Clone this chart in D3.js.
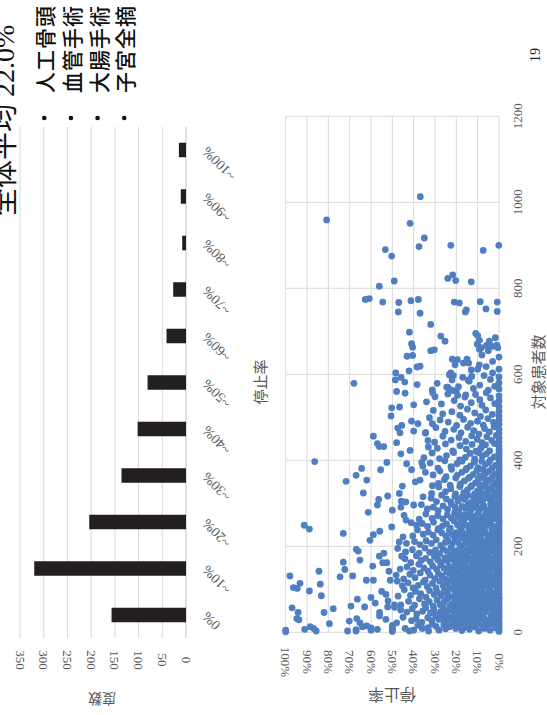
<!DOCTYPE html>
<html>
<head>
<meta charset="utf-8">
<script src="https://cdn.jsdelivr.net/npm/d3@7"></script>
<style>
  html, body { margin: 0; padding: 0; background: #fff; }
  svg { display: block; }
</style>
</head>
<body>
<svg id="page" width="547" height="715"></svg>
<script>
// ---- data ----
const rateCategories = ["0%", "~10%", "~20%", "~30%", "~40%", "~50%", "~60%", "~70%", "~80%", "~90%", "~100%"];
const frequencyCounts = [157, 320, 204, 136, 102, 81, 41, 27, 8, 11, 15];
const frequencyTicks = [0, 50, 100, 150, 200, 250, 300, 350];

const rateTicks = [0, 10, 20, 30, 40, 50, 60, 70, 80, 90, 100];
const patientTicks = [0, 200, 400, 600, 800, 1000, 1200];

const summaryLabel = "全体平均";
const summaryValue = "22.0%";
const procedures = ["人工骨頭", "血管手術", "大腸手術", "子宮全摘"];
const pageNumber = "19";

// [停止率 (%), 対象患者数]
const facilities = [
  [0,2],[0,7],[0,12],[0,17],[1.4,10],[2.9,19],[4.2,5],[5.6,14],[6.8,9],[8.1,18],[9.5,3],[10.9,12],[12.3,16],[13.8,7],[14.6,20],[16.1,11],[17.4,4],[18.8,15],[20.3,9],[21.7,19],[23.2,13],[25,8],[25.9,17],[28.1,5],[29.5,14],[31.3,19],[33,3],[33.3,11],[36,9],[38,16],[40,5],[42,3],[44,9],[50,2],[50,4],[50,9],[50,12],[50,16],[57,7],[60,5],[60,10],[62,15],[67,3],[67,6],[64,13],[71,3],[79.5,20],[85.7,3],[86.9,9],[88.5,13],[91.1,7],[100,1],[100,5],
  [0,21],[0,27],[0,34],[0,39],[0.8,30],[2.1,24],[3.3,36],[4.6,28],[5.2,22],[6.9,33],[7.7,26],[8.4,39],[9.8,31],[10.5,23],[11.9,35],[12.6,27],[13.4,21],[14.8,37],[15.3,29],[16.7,24],[17.6,34],[18.9,26],[19.5,38],[20.8,31],[21.4,22],[22.7,36],[24.1,28],[25.6,24],[26.3,35],[28.2,30],[29.7,38],[31.5,27],[33.4,34],[36.2,23],[38.8,31],[41,27],[45,35],[48,22],[53,30],[56,38],[65.2,22],[66.7,32],[70.2,26],[93.8,29],[94.8,32],
  [0,43],[0,49],[0,55],[0.6,58],[1.7,46],[2.9,52],[3.8,41],[5.1,57],[6.3,47],[7.2,54],[8.8,44],[9.4,59],[10.7,50],[11.6,42],[12.9,56],[13.5,47],[14.2,53],[15.9,44],[16.6,58],[17.8,49],[18.4,41],[19.7,55],[20.9,46],[22.3,59],[23.6,51],[24.8,43],[26.1,56],[27.4,48],[28.9,41],[30.6,53],[32.1,45],[34.3,57],[35.8,49],[38.5,43],[40.7,55],[43.2,47],[46.1,52],[49,58],[52.2,59],[56,46],[63,59],[69.4,61],[77.7,55],[82,46],[94.2,46],[97,57],
  [0,61],[0,67],[0,73],[0,79],[1.2,64],[2.4,76],[3.6,69],[4.3,61],[5.7,72],[6.6,66],[7.9,78],[8.2,63],[9.6,70],[10.3,75],[11.4,62],[12.7,68],[13.9,77],[14.5,65],[15.8,72],[16.4,60],[17.3,69],[18.6,79],[19.2,64],[20.5,74],[21.8,67],[23.1,62],[24.4,77],[25.9,70],[27.6,64],[29.1,75],[30.8,61],[32.7,71],[34.9,66],[37.3,78],[39.6,63],[42.4,72],[46,64],[49,64],[52,73],[58,68],[66.4,77],
  [0,81],[0,88],[0,95],[0.5,99],[1.6,85],[2.8,92],[3.9,83],[4.7,97],[5.9,89],[6.4,81],[7.8,94],[8.7,86],[9.3,99],[10.8,90],[11.2,82],[12.5,96],[13.8,87],[14.3,93],[15.6,84],[16.9,98],[17.5,89],[18.2,81],[19.8,93],[20.6,86],[21.3,99],[22.9,83],[24.2,91],[25.7,96],[27.1,85],[28.8,93],[30.4,88],[32.6,97],[34.2,82],[36.7,90],[39.1,95],[41.5,86],[44.4,99],[47.3,84],[53,88],[55,95],[60,81],[83.3,85],[88.9,96],
  [0,101],[0,108],[0,115],[0.9,104],[2.2,119],[3.1,110],[4.4,102],[5.6,114],[6.1,107],[7.5,118],[8.6,103],[9.1,111],[10.4,116],[11.7,105],[12.3,120],[13.6,109],[14.9,101],[15.4,113],[16.2,106],[17.7,117],[18.5,102],[19.3,112],[20.7,107],[21.9,118],[23.4,104],[24.6,113],[26.2,108],[27.8,119],[29.5,103],[31.2,114],[33.6,106],[35.4,117],[37.9,109],[40.3,103],[42.6,115],[45.3,108],[47.7,119],[51,121],[58.9,121],[62.2,121],[83.8,112],[96.4,104],[94.6,102],[93.3,114],
  [0,122],[0,129],[0,136],[0.4,140],[1.4,125],[2.6,133],[3.5,121],[4.9,138],[5.4,127],[6.7,134],[7.3,123],[8.9,130],[9.7,139],[10.2,126],[11.5,135],[12.8,122],[13.2,131],[14.7,137],[15.1,124],[16.5,132],[17.9,128],[18.3,139],[19.6,121],[20.9,134],[22.2,126],[23.5,138],[24.9,123],[26.6,131],[28.3,136],[30.1,125],[32.4,133],[34.6,121],[36.9,138],[39.4,127],[41.8,135],[44.7,124],[48.2,133],[51.6,142],[68.6,131],[74.5,129],[98,131],
  [0,141],[0,148],[0,155],[1.1,144],[2.3,159],[3.4,150],[4.5,142],[5.8,153],[6.2,146],[7.6,158],[8.5,143],[9.2,151],[10.6,156],[11.3,145],[12.4,160],[13.7,149],[14.1,141],[15.5,154],[16.8,147],[17.2,157],[18.7,143],[19.4,152],[20.3,158],[21.7,145],[23.2,153],[24.5,141],[25.8,149],[27.3,157],[29.2,146],[31.1,154],[33.3,142],[35.2,150],[37.6,158],[40.2,144],[43.1,152],[46.3,147],[59.2,154],[72.3,146],[84.4,142],
  [0,161],[0,168],[0,175],[0.7,179],[1.9,164],[2.5,172],[3.7,162],[4.8,177],[5.3,167],[6.5,174],[7.4,163],[8.3,171],[9.9,178],[10.1,165],[11.8,173],[12.2,161],[13.3,169],[14.6,176],[15.7,163],[16.3,171],[17.4,179],[18.8,166],[19.1,174],[20.4,162],[21.6,170],[22.8,178],[24.3,165],[25.5,173],[27.2,161],[28.7,169],[30.3,177],[32.2,164],[34.4,172],[36.5,167],[38.7,178],[41.4,162],[44.1,171],[45.6,177],[52.6,162],[54.5,162],[56.1,177],[65.2,168],[73,163],
  [0,181],[0,188],[0,195],[1.3,184],[2.7,192],[3.2,199],[4.2,186],[5.5,193],[6.8,182],[7.1,190],[8.1,197],[9.5,185],[10.9,194],[11.1,181],[12.6,189],[13.5,198],[14.4,183],[15.2,191],[16.6,187],[17.1,196],[18.5,182],[19.9,190],[21.2,185],[22.5,197],[24.3,188],[26.1,193],[27.9,183],[29.8,191],[32.5,186],[34.7,196],[37.4,184],[40.6,192],[43.8,187],[47.5,195],[54,184],[66.9,193],[66,189],
  [0,201],[0,208],[0,215],[1.2,204],[2.3,212],[3.6,219],[4.4,206],[5.7,214],[6.3,201],[7.4,209],[8.6,217],[9.3,203],[10.2,211],[11.8,206],[12.4,218],[13.9,204],[14.3,213],[15.7,208],[16.8,219],[18.2,202],[19.4,210],[20.6,216],[22.1,205],[23.8,213],[25.2,209],[27.3,202],[29.4,215],[31.7,207],[34.2,213],[37.1,204],[39.6,211],[43.4,207],[46.8,210],[60.5,214],
  [0,221],[0,228],[0,235],[1.5,224],[2.9,232],[3.4,239],[4.7,226],[5.1,221],[6.6,234],[7.8,229],[8.4,238],[9.6,223],[10.7,231],[11.3,237],[12.5,226],[13.4,233],[14.9,222],[16.2,229],[17.5,236],[18.8,225],[20.2,232],[21.9,227],[23.3,237],[24.9,224],[26.8,231],[28.6,238],[30.9,226],[33.1,233],[35.5,228],[38.2,238],[40.4,224],[45,222],[55.9,235],[58.9,227],[73,230],
  [0,243],[0,251],[0,258],[1.1,247],[2.4,241],[3.8,254],[4.3,259],[5.6,249],[6.9,244],[7.6,256],[8.9,252],[9.7,242],[10.4,258],[11.6,246],[12.8,253],[14.1,241],[15.4,249],[16.7,257],[18.1,244],[19.5,250],[21.1,259],[22.8,242],[24.6,252],[26.5,247],[28.4,241],[30.7,256],[33.5,246],[36,253],[38.6,249],[41.2,255],[50.3,245],[91.3,249],[88.9,240],
  [0,261],[0,268],[0,275],[1.4,264],[2.8,272],[3.5,279],[4.9,266],[5.3,261],[6.4,274],[7.7,268],[8.6,262],[9.8,277],[11.2,270],[12.5,263],[13.7,276],[15.1,267],[16.4,273],[17.9,262],[19.3,271],[20.8,278],[22.4,266],[24.2,273],[26.3,264],[28.7,271],[31.4,265],[34.3,275],[37.4,263],[43.6,261],[44.5,272],[61.3,279],
  [0,281],[0,288],[0,295],[1.2,284],[2.6,292],[3.9,299],[4.5,286],[5.8,281],[7.1,294],[8.2,289],[9.4,283],[10.6,297],[11.9,290],[13.2,284],[14.5,296],[15.8,288],[17.3,293],[18.9,282],[20.5,291],[22.3,298],[24.1,286],[26.2,294],[28.5,283],[30.8,291],[33.6,287],[36.4,297],[40,296],[46,291],[50,284],[57,296],
  [0,304],[0,311],[0,318],[1.6,301],[2.7,315],[4.1,308],[5.4,319],[6.7,312],[7.8,303],[9.1,317],[10.3,306],[11.7,313],[13.1,302],[14.6,318],[16.1,309],[17.6,314],[19.2,305],[20.7,316],[22.6,303],[24.7,310],[26.9,319],[29.3,304],[31.8,312],[35.6,315],[43.7,303],[45.8,305],[56.4,309],[52.2,317],[46.7,323],
  [0,324],[0,331],[0,338],[1.3,327],[2.5,321],[3.8,335],[5.2,330],[6.4,339],[7.6,323],[8.9,336],[10.2,328],[11.5,322],[13.3,338],[14.8,331],[16.5,325],[18.3,339],[20.4,322],[22.6,334],[25.1,327],[28.2,338],[31.6,323],[45.3,340],[63.6,324],
  [0,344],[0,351],[0,358],[1.5,348],[2.8,341],[4.3,355],[5.6,350],[6.9,358],[8.2,343],[9.7,356],[11.1,347],[12.8,341],[14.3,358],[16.2,352],[18.1,345],[20.3,359],[22.9,342],[25.6,355],[28.4,346],[31.2,341],[37,354],[39.2,350],[62,354],[67,365],[71.7,351],
  [0,364],[0,371],[0,378],[1.8,368],[3.1,361],[4.6,375],[6.2,370],[7.5,378],[8.9,363],[10.4,376],[12.1,367],[13.7,361],[15.5,378],[17.4,372],[19.6,365],[22.2,379],[24.8,362],[27.7,375],[30.9,366],[34.5,372],[41,378],[55.5,378],[64.4,381],
  [0,384],[0,391],[0,398],[1.7,388],[3.3,381],[4.8,395],[6.5,390],[8.1,398],[9.8,383],[11.6,396],[13.4,387],[15.2,381],[17.3,398],[19.7,392],[22.5,385],[25.4,399],[28.6,382],[32.3,394],[35.7,386],[36.2,395],[43.3,392],[52.6,395],[86.4,397],
  [0,404],[0,412],[0,419],[2.2,408],[4.1,401],[5.9,415],[7.8,410],[9.6,418],[11.4,403],[13.5,416],[15.8,407],[18.4,401],[21.3,418],[24.6,411],[27.9,404],[31.4,417],[35.2,406],[41.7,423],[46,415],
  [0,425],[0,433],[2.1,439],[4.4,422],[6.3,436],[8.5,428],[10.8,421],[12.6,437],[15.3,426],[18.2,434],[21.7,422],[25.1,438],[28.9,428],[33.1,431],[33.3,446],[48,441],[54,432],[56.1,432],[57,439],
  [0,443],[0,452],[1.3,458],[3.4,446],[5.7,455],[7.9,441],[10.2,449],[12.8,457],[15.6,444],[18.7,453],[22.4,447],[26.3,456],[30.2,442],[34.5,463],[46.4,464],[58.9,456],
  [0,463],[0,472],[2.3,478],[4.5,466],[6.8,474],[9.4,461],[11.9,469],[14.7,477],[17.8,464],[21.2,472],[25.3,467],[29.6,476],[34.4,465],[40,468],[45.6,481],[47.5,475],
  [0,484],[0,493],[2.6,488],[5.2,497],[7.4,482],[10.1,491],[13.3,486],[16.6,495],[19.9,481],[23.8,489],[27.6,494],[31.2,485],[32.6,499],[38,485],[41,491],
  [0,503],[0,514],[3.1,507],[6.2,517],[8.7,502],[11.4,510],[14.8,519],[18.3,505],[22.1,513],[26.4,508],[30.8,516],[50.6,503],[46.6,524],[50.3,522],
  [0,525],[0,538],[0,550],[2,532],[4,545],[6,557],[8,528],[9,541],[11,553],[13,534],[16,547],[18,526],[21,539],[24,554],[27,531],[30,548],[34,536],[40,529],[44,556],[48,560],
  [0,566],[0,580],[0,594],[2,572],[4,588],[5,563],[7,597],[9,575],[12,567],[14,584],[17,593],[19,571],[20,562],[22,587],[24,570],[23,599],[29,579],[31.3,564],[31.1,557],[38.4,576],[44.2,582],[45.9,593],[48.6,587],[48.4,603],[68,579],[42.2,608],[10,612],[9.2,622],
  [0,612],[0,640],[1,668],[3,603],[3,630],[5,655],[6,618],[8,645],[10,690],[13,610],[15,635],[16.7,626],[14.2,626],[19.5,634],[21.9,635],[20.6,622],[22.6,603],[23.3,599],[21.4,597],[14.5,587],[12.8,595],[37,619],[38.4,617],[42,698],[41,671],[40.5,663],[43.1,642],[40.5,644],[32,716],[27.3,689],[25.3,677],[32,655],[30.3,657],[10.9,695],[9.2,679],[10.2,670],[9.2,658],[8.3,662],[5.8,667],[4.5,677],[3.1,665],[1.7,685],[0.6,662],[24.5,570],[23,565],[21.4,562],[15.6,552],[19.4,551],
  [36.9,1013],[80.8,959],[41.7,951],[35,917],[37.5,897],[22.6,900],[7.4,888],[0.1,900],[53.3,890],[50.3,875],[49.1,817],[56.1,805],[24,823],[21.7,831],[20.3,818],[13,815],[62.7,774],[60.8,776],[54.5,768],[47,767],[41.3,771],[37.8,774],[47.2,745],[37,742],[21,768],[18.6,766],[15.3,750],[15.8,745],[8.8,769],[6.1,752],[0.8,768],[0.8,746]
];

// ---- layout ----
const svg = d3.select("#page");
const gridColor = "#d9d9d9";
const tickColor = "#595959";
const serif = "'Liberation Serif', 'Times New Roman', serif";
const gothic = "'Noto Sans CJK JP', 'Noto Sans', sans-serif";

// ===== histogram (bars run leftwards from the value baseline) =====
const barCat = d3.scaleBand()
  .domain(rateCategories)
  .range([638.25, 126.75])
  .paddingInner(0.688)
  .paddingOuter(0.344);
const barVal = d3.scaleLinear().domain([0, 350]).range([186, 20]);

const hist = svg.append("g");

hist.append("g").selectAll("line")
  .data(frequencyTicks)
  .join("line")
  .attr("x1", d => barVal(d)).attr("x2", d => barVal(d))
  .attr("y1", 126.75).attr("y2", 638.25)
  .attr("stroke", d => d === 0 ? "#bfbfbf" : gridColor)
  .attr("stroke-width", 1);

hist.append("g").selectAll("rect")
  .data(rateCategories)
  .join("rect")
  .attr("x", (d, i) => barVal(frequencyCounts[i]))
  .attr("width", (d, i) => barVal(0) - barVal(frequencyCounts[i]))
  .attr("y", d => barCat(d))
  .attr("height", barCat.bandwidth())
  .attr("fill", "#231f20");

hist.append("g").selectAll("text")
  .data(frequencyTicks)
  .join("text")
  .attr("transform", d => `translate(${barVal(d)},660) rotate(90)`)
  .attr("text-anchor", "middle")
  .attr("dominant-baseline", "central")
  .attr("font-family", serif)
  .attr("font-size", 13)
  .attr("fill", tickColor)
  .text(d => d);

hist.append("g").selectAll("text")
  .data(rateCategories)
  .join("text")
  .attr("transform", d => `translate(208,${barCat(d) + barCat.bandwidth() / 2 - 4}) rotate(-135)`)
  .attr("text-anchor", "end")
  .attr("font-family", serif)
  .attr("font-size", 14)
  .attr("fill", tickColor)
  .text(d => d);

hist.append("text")
  .attr("transform", `translate(259,382) rotate(-90)`)
  .attr("text-anchor", "middle")
  .attr("dominant-baseline", "central")
  .attr("font-family", gothic)
  .attr("font-size", 15)
  .attr("fill", tickColor)
  .text("停止率");

hist.append("text")
  .attr("transform", `translate(102,700) rotate(180)`)
  .attr("text-anchor", "middle")
  .attr("dominant-baseline", "central")
  .attr("font-family", gothic)
  .attr("font-size", 14)
  .attr("fill", tickColor)
  .text("度数");

// ===== scatter: stop rate vs patient count =====
const xRate = d3.scaleLinear().domain([0, 100]).range([499, 285.7]);
const yPat = d3.scaleLinear().domain([0, 1200]).range([632.3, 116.3]);

const sc = svg.append("g");

sc.append("g").selectAll("line")
  .data(rateTicks)
  .join("line")
  .attr("x1", d => xRate(d)).attr("x2", d => xRate(d))
  .attr("y1", yPat(1200)).attr("y2", yPat(0))
  .attr("stroke", gridColor);

sc.append("g").selectAll("line")
  .data(patientTicks)
  .join("line")
  .attr("x1", xRate(100)).attr("x2", xRate(0))
  .attr("y1", d => yPat(d)).attr("y2", d => yPat(d))
  .attr("stroke", gridColor);

sc.append("g").selectAll("circle")
  .data(facilities)
  .join("circle")
  .attr("cx", d => xRate(d[0]))
  .attr("cy", d => yPat(d[1]))
  .attr("r", 3.4)
  .attr("fill", "#4f7fc0");

sc.append("g").selectAll("text")
  .data(rateTicks)
  .join("text")
  .attr("transform", d => `translate(${xRate(d)},662) rotate(90)`)
  .attr("text-anchor", "middle")
  .attr("dominant-baseline", "central")
  .attr("font-family", serif)
  .attr("font-size", 13)
  .attr("fill", tickColor)
  .text(d => d + "%");

sc.append("g").selectAll("text")
  .data(patientTicks)
  .join("text")
  .attr("transform", d => `translate(517.5,${yPat(d)}) rotate(-90)`)
  .attr("text-anchor", "middle")
  .attr("dominant-baseline", "central")
  .attr("font-family", serif)
  .attr("font-size", 13)
  .attr("fill", tickColor)
  .text(d => d);

sc.append("text")
  .attr("transform", `translate(392,696) rotate(180)`)
  .attr("text-anchor", "middle")
  .attr("dominant-baseline", "central")
  .attr("font-family", gothic)
  .attr("font-size", 16)
  .attr("fill", tickColor)
  .text("停止率");

sc.append("text")
  .attr("transform", `translate(537,372) rotate(-90)`)
  .attr("text-anchor", "middle")
  .attr("dominant-baseline", "central")
  .attr("font-family", gothic)
  .attr("font-size", 15)
  .attr("fill", tickColor)
  .text("対象患者数");

// ===== page heading, procedure list and page number =====
const head = svg.append("text")
  .attr("transform", `translate(14,216) rotate(-90)`)
  .attr("font-size", 28)
  .attr("fill", "#111");
head.append("tspan").attr("font-family", gothic).text(summaryLabel);
head.append("tspan").attr("font-family", serif).text(" " + summaryValue);

const listX = d3.scaleLinear().domain([0, procedures.length - 1]).range([44.3, 124.2]);
const list = svg.append("g");
list.selectAll("circle")
  .data(procedures)
  .join("circle")
  .attr("cx", (d, i) => listX(i))
  .attr("cy", 118)
  .attr("r", 2.3)
  .attr("fill", "#111");
list.selectAll("text")
  .data(procedures)
  .join("text")
  .attr("transform", (d, i) => `translate(${listX(i)},93) rotate(-90)`)
  .attr("dominant-baseline", "central")
  .attr("font-family", gothic)
  .attr("font-weight", 500)
  .attr("font-size", 21)
  .attr("letter-spacing", 1)
  .attr("fill", "#111")
  .text(d => d);

svg.append("text")
  .attr("transform", `translate(535,55) rotate(-90)`)
  .attr("text-anchor", "middle")
  .attr("dominant-baseline", "central")
  .attr("font-family", serif)
  .attr("font-size", 14)
  .attr("fill", "#222")
  .text(pageNumber);
</script>
</body>
</html>
